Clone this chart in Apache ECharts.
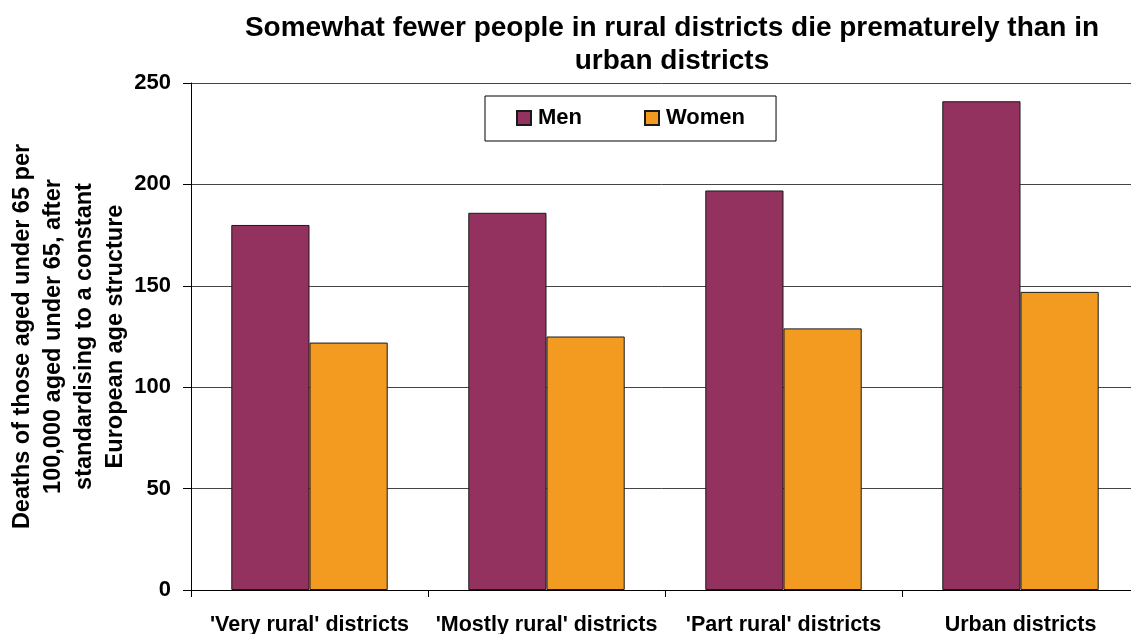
<!DOCTYPE html>
<html>
<head>
<meta charset="utf-8">
<script src="https://cdn.jsdelivr.net/npm/echarts@6/dist/echarts.min.js"></script>
<style>
  html, body { margin: 0; padding: 0; background: #fff; }
  #chart { width: 1131px; height: 634px; }
</style>
</head>
<body>
<div id="chart"></div>
<script>
const categories = ["'Very rural' districts", "'Mostly rural' districts", "'Part rural' districts", 'Urban districts']
const men = [180, 186, 197, 241]
const women = [122, 125, 129, 147]
const yTicks = { min: 0, max: 250, interval: 50 }

const font = '"Liberation Sans", Arial, sans-serif'
const chart = echarts.init(document.getElementById('chart'))

chart.setOption({
  animation: false,
  backgroundColor: '#fff',
  title: {
    text: 'Somewhat fewer people in rural districts die prematurely than in\nurban districts',
    left: 667,
    top: 7,
    textAlign: 'center',
    textStyle: { fontFamily: font, fontWeight: 'bold', fontSize: 28, lineHeight: 33, color: '#000' },
  },
  legend: {
    left: 485,
    top: 96,
    padding: [11, 31, 12, 31],
    itemGap: 62,
    itemWidth: 14,
    itemHeight: 14,
    borderColor: '#000',
    borderWidth: 1,
    icon: 'rect',
    textStyle: { fontFamily: font, fontWeight: 'bold', fontSize: 22, color: '#000', padding: [0, 0, 0, 2] },
  },
  grid: { left: 191, top: 83, width: 948, height: 507, outerBoundsMode: 'none', containLabel: false },
  xAxis: {
    type: 'category',
    data: categories,
    axisLine: { lineStyle: { color: '#000', width: 1 } },
    axisTick: { show: true, length: 7, lineStyle: { color: '#000' } },
    axisLabel: { fontFamily: font, fontWeight: 'bold', fontSize: 21.5, color: '#000', margin: 24, interval: 0 },
  },
  yAxis: {
    type: 'value',
    min: yTicks.min,
    max: yTicks.max,
    interval: yTicks.interval,
    name: 'Deaths of those aged under 65 per\n100,000 aged under 65, after\nstandardising to a constant\nEuropean age structure',
    nameLocation: 'middle',
    nameGap: 60,
    nameMoveOverlap: false,
    nameTextStyle: { fontFamily: font, fontWeight: 'bold', fontSize: 23.5, lineHeight: 31, color: '#000', align: 'center' },
    axisLine: { show: true, lineStyle: { color: '#000', width: 1 } },
    axisTick: { show: true, length: 8, lineStyle: { color: '#000' } },
    axisLabel: { fontFamily: font, fontWeight: 'bold', fontSize: 22, color: '#000', margin: 20 },
    splitLine: { show: true, lineStyle: { color: '#444', width: 1 } },
  },
  series: [
    {
      name: 'Men',
      type: 'bar',
      data: men,
      barGap: '0%',
      barCategoryGap: '34%',
      itemStyle: { color: '#93325F', borderColor: '#1a1a1a', borderWidth: 1 },
    },
    {
      name: 'Women',
      type: 'bar',
      data: women,
      itemStyle: { color: '#F39A21', borderColor: '#1a1a1a', borderWidth: 1 },
    },
  ],
})
</script>
</body>
</html>
